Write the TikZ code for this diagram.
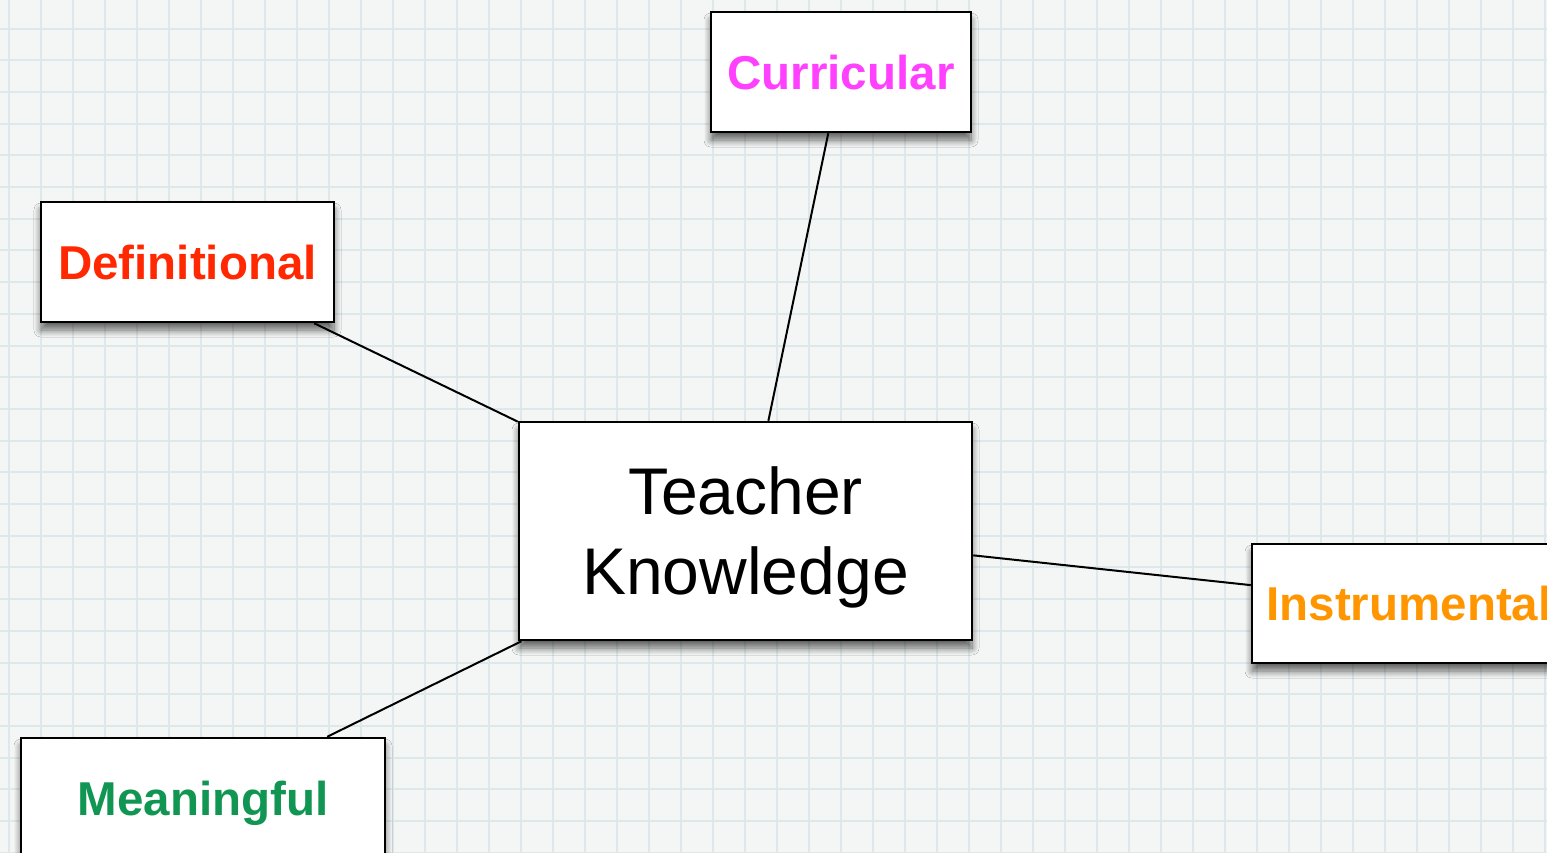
\documentclass[tikz,border=0pt]{standalone}
\usepackage{fontspec}
\setmainfont{Liberation Sans}
\usetikzlibrary{shadows.blur}

\definecolor{paper}{RGB}{244,245,245}
\definecolor{gridline}{RGB}{221,232,235}
\definecolor{curcol}{RGB}{255,64,255}
\definecolor{defcol}{RGB}{255,40,0}
\definecolor{inscol}{RGB}{255,150,0}
\definecolor{meacol}{RGB}{16,150,82}

\tikzset{
  card/.style={draw=black, line width=1.25pt, fill=white, inner sep=0pt,
    minimum height=60pt, text depth=0pt,
    blur shadow={shadow xshift=0pt, shadow yshift=-4pt, shadow scale=1.0,
      shadow blur radius=3.5pt, shadow blur steps=10, shadow opacity=60}},
  label/.style={font=\bfseries\fontsize{23.75}{28}\selectfont},
  link/.style={draw=black, line width=1pt},
}

\begin{document}
\begin{tikzpicture}[x=0.5pt, y=-0.5pt]
  % paper with grid
  \useasboundingbox (0,0) rectangle (1547,852);
  \clip (0,0) rectangle (1547,852);
  \fill[paper] (0,0) rectangle (1547,852);
  \foreach \gx in {0,...,48} {
    \draw[gridline, line width=1pt] ({8.5+32*\gx},0) -- ({8.5+32*\gx},852);
  }
  \foreach \gy in {0,...,26} {
    \draw[gridline, line width=1pt] (0,{28.5+31.7*\gy}) -- (1547,{28.5+31.7*\gy});
  }

  % concept boxes
  \node[card, minimum width=226.5pt, minimum height=109pt, align=center,
        font=\fontsize{33}{40}\selectfont] (tk) at (745.5,531) {Teacher\\Knowledge};
  \node[card, label, text=curcol, minimum width=130pt] (cur) at (841,72) {Curricular};
  \node[card, label, text=defcol, minimum width=146.5pt] (def) at (187.5,262) {Definitional};
  \node[card, label, text=inscol, minimum width=171pt, minimum height=59.5pt] (ins) at (1423,603.5) {\hspace*{-14pt}Instrumental};
  \node[card, label, text=meacol, minimum width=182pt] (mea) at (203,798) {Meaningful};

  % connectors
  \draw[link] (cur) -- (tk);
  \draw[link] (def) -- (tk);
  \draw[link] (tk) -- (ins);
  \draw[link] (tk) -- (mea);
\end{tikzpicture}
\end{document}
